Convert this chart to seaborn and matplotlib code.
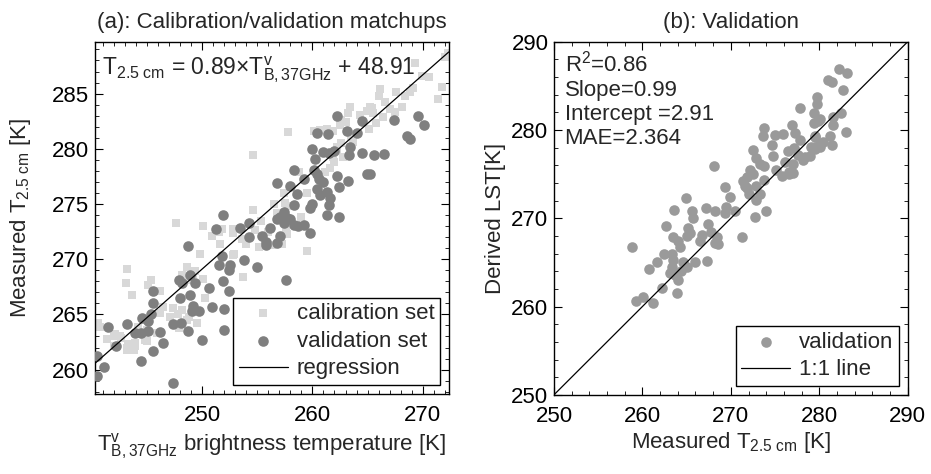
import matplotlib
matplotlib.use("Agg")
import matplotlib.pyplot as plt
from matplotlib.ticker import MultipleLocator
import seaborn as sns
import pandas as pd
import numpy as np

# ---------------- data ----------------
cal_x = [272.0, 272.3, 269.3, 270.6, 269.9, 271.7, 271.4,
         266.1, 266.0, 267.6, 268.4, 268.8, 269.1, 265.2, 265.5, 266.6, 267.0, 268.1, 267.5,
         266.4, 265.8, 265.1, 263.4, 263.2, 265.4, 264.9, 264.3, 262.6, 263.0, 262.5, 261.9,
         263.5, 263.7, 262.6, 262.2, 261.7, 262.0, 261.6, 261.1, 257.8, 260.1, 260.7, 261.3,
         254.6, 262.2, 261.9, 262.8, 257.4, 257.5, 256.8, 254.6, 259.5, 260.8, 258.8, 256.5,
         257.8, 255.3, 259.0, 256.0, 254.8, 253.6, 257.6,
         247.6, 250.1, 250.9, 251.5, 252.8, 251.8, 252.8, 251.6, 252.8, 254.0, 255.2, 256.3,
         257.2, 257.7, 259.5, 249.8, 243.2, 243.1, 243.7, 248.6, 249.2, 248.2, 248.9, 245.1,
         245.4, 246.2, 250.1, 250.3, 253.7, 248.2, 247.4, 246.5, 247.1, 246.2, 248.6, 245.0,
         245.0, 243.9, 243.2, 242.6, 242.0, 240.8, 242.0, 245.9, 249.4, 252.9, 240.6, 242.1,
         242.7, 243.3, 243.9, 243.2, 243.8, 244.8, 247.8, 248.8, 249.5, 247.9, 244.2, 241.4]
cal_y = [288.3, 288.7, 287.8, 286.5, 286.6, 285.6, 284.5,
         285.4, 284.8, 285.1, 284.8, 285.1, 285.5, 283.8, 283.2, 284.2, 283.6, 283.8, 283.3,
         282.9, 282.3, 281.8, 283.8, 283.2, 283.7, 283.4, 283.1, 282.6, 282.4, 282.2, 281.6,
         281.2, 280.6, 280.5, 280.0, 279.4, 278.8, 278.3, 277.9, 281.5, 281.6, 281.7, 281.8,
         279.4, 280.2, 279.3, 279.3, 276.0, 275.1, 274.2, 274.5, 276.0, 276.8, 277.9, 275.0,
         274.8, 273.5, 273.8, 272.5, 272.6, 271.8, 272.8,
         273.3, 273.0, 272.1, 272.5, 272.7, 272.7, 272.4, 271.4, 270.4, 271.4, 271.1, 271.3,
         271.4, 272.3, 270.7, 270.5, 269.1, 267.8, 266.8, 269.3, 268.7, 268.6, 268.1, 267.7,
         268.1, 267.1, 268.2, 266.5, 268.4, 265.4, 265.6, 265.7, 264.8, 265.1, 264.5, 263.6,
         262.6, 262.1, 262.0, 263.0, 263.0, 263.9, 262.1, 263.3, 268.9, 270.5, 264.2, 263.2,
         262.9, 262.3, 262.4, 261.8, 261.8, 262.7, 265.0, 264.8, 264.2, 263.8, 263.9, 262.8]

val_x = [262.2, 264.5, 267.4, 269.6, 270.1,
         260.4, 261.4, 263.1, 264.0, 268.6, 268.8,
         260.0, 263.4, 261.0, 261.5, 262.0, 260.2, 263.3, 264.5, 265.6, 266.5,
         258.3, 260.1, 260.4, 260.6, 261.0, 262.2, 263.2, 264.9, 265.2,
         256.8, 259.2, 258.0, 258.6, 260.4, 260.7, 261.3, 261.6, 261.5, 262.4,
         260.0, 259.8, 258.3, 257.4, 257.1, 257.7, 262.4, 261.3,
         256.8, 257.4, 258.0, 258.3, 258.7, 259.2,
         257.1, 256.8, 259.8,
         251.9, 254.3, 253.4, 251.3, 256.2, 255.4, 255.8, 255.8, 254.3,
         248.7, 251.8, 251.5, 252.5, 252.4, 253.8, 255.0,
         247.9, 248.2, 248.9, 249.4, 248.9, 250.6, 251.9, 252.4,
         245.6, 245.6, 248.0, 249.1, 249.7, 249.2, 250.9, 252.0,
         244.6, 245.1, 245.4, 243.2, 241.5, 243.9, 244.5, 245.1, 246.2,
         247.4, 248.1, 248.7, 252.0, 250.0, 242.2, 246.5, 245.6, 244.5,
         240.5, 241.1, 240.5, 247.4, 257.6]
val_y = [283.0, 282.5, 282.6, 283.0, 282.2,
         281.4, 281.3, 281.6, 281.4, 281.2, 280.9,
         280.0, 280.2, 279.7, 279.6, 279.8, 279.1, 279.4, 279.6, 279.4, 279.5,
         278.1, 278.1, 277.7, 277.3, 277.0, 277.5, 277.1, 277.7, 277.7,
         276.9, 277.3, 276.6, 275.9, 276.4, 275.8, 276.1, 275.5, 274.9, 276.5,
         275.0, 274.6, 274.9, 274.3, 273.8, 273.7, 273.8, 274.0,
         273.6, 273.3, 273.6, 273.1, 273.0, 273.1,
         272.1, 271.5, 272.4,
         274.0, 273.3, 272.8, 272.7, 272.8, 272.1, 271.6, 271.3, 272.0,
         271.2, 270.3, 269.5, 269.5, 269.0, 269.9, 269.3,
         268.1, 267.8, 268.6, 267.8, 266.8, 267.4, 268.0, 267.1,
         267.1, 266.0, 266.5, 265.3, 265.3, 265.8, 265.7, 265.5,
         264.7, 264.4, 265.0, 264.1, 263.9, 263.3, 263.3, 263.5, 263.4,
         264.1, 264.2, 263.5, 263.6, 262.7, 262.1, 262.4, 261.7, 260.8,
         261.2, 260.2, 259.4, 258.8, 268.1]

reg_slope = 0.88
reg_intercept = 49.1

meas_x = [282.2, 283.1, 281.0, 281.4, 282.7,
          279.7, 279.7, 279.4, 279.8, 279.4, 280.1,
          277.8,
          281.5, 282.5, 281.6, 283.0, 281.2, 281.4,
          279.5, 280.4, 279.5, 280.1, 279.1,
          273.8, 273.6, 275.0, 275.9, 274.7, 276.9, 277.3, 277.8, 277.1, 276.5, 277.6, 278.4, 278.9, 279.5, 280.1, 279.5,
          272.5, 272.9, 273.3, 272.2, 271.8, 271.4, 272.5, 273.8, 274.8, 275.1, 276.1, 277.0, 276.6, 275.8, 276.6, 278.2, 277.0,
          268.1, 269.3, 269.9, 271.6, 272.9, 273.7,
          271.8, 272.1, 273.3, 272.9, 274.0, 272.7, 271.3,
          264.9, 263.6, 265.6, 265.7, 267.2, 268.2, 269.5, 269.3, 270.5,
          262.7, 265.2, 265.4, 265.0, 267.4, 266.7, 266.5, 267.8, 268.4, 268.6, 268.2,
          258.8, 263.5, 264.0, 264.2,
          262.4, 263.3, 263.5, 263.3, 263.1, 263.7, 264.0,
          264.6, 265.0, 264.4, 265.9, 267.3, 261.7, 260.8,
          262.2, 263.9, 260.1, 259.3, 261.2]
derived_y = [286.9, 286.4, 285.7, 285.4, 284.5,
             283.7, 282.9, 281.9, 281.0, 280.8, 281.2,
             282.5,
             281.5, 281.9, 280.6, 279.8, 279.3, 278.3,
             279.3, 278.6, 278.1, 278.1, 278.1,
             280.2, 279.3, 279.4, 279.6, 278.3, 280.6, 279.7, 278.9, 278.0, 277.6, 277.2, 276.9, 277.1, 279.2, 278.4, 277.9,
             277.7, 276.8, 276.2, 275.5, 274.7, 274.2, 275.0, 275.9, 277.0, 275.5, 276.4, 276.2, 275.2, 274.8, 275.0, 276.6, 275.1,
             275.9, 273.5, 272.4, 273.6, 273.6, 274.3,
             273.4, 272.8, 272.8, 272.1, 270.8, 270.1, 267.9,
             272.3, 270.9, 270.8, 270.0, 271.2, 270.8, 271.3, 270.6, 270.8,
             269.1, 268.9, 268.3, 268.0, 269.4, 268.1, 267.4, 268.5, 267.9, 267.1, 267.2,
             266.8, 267.9, 267.4, 266.8,
             266.0, 265.9, 265.3, 264.5, 263.8, 263.6, 263.0,
             265.1, 264.5, 264.0, 265.1, 265.2, 265.0, 264.2,
             262.1, 261.5, 261.1, 260.6, 260.4]

one_to_one = [250, 290]

# ---------------- style ----------------
sns.set_style("white")
plt.rcParams['font.family'] = ['Liberation Sans', 'DejaVu Sans']
plt.rcParams['mathtext.fontset'] = 'custom'
plt.rcParams['mathtext.rm'] = 'Liberation Sans'
plt.rcParams['mathtext.it'] = 'Liberation Sans'
plt.rcParams['mathtext.bf'] = 'Liberation Sans'
plt.rcParams['mathtext.default'] = 'regular'

FS = 16
fig = plt.figure(figsize=(9.31, 4.74), dpi=100)
ax1 = fig.add_axes([0.102, 0.169, 0.380, 0.743])
ax2 = fig.add_axes([0.595, 0.167, 0.380, 0.745])

cal_df = pd.DataFrame({'x': cal_x, 'y': cal_y})
val_df = pd.DataFrame({'x': val_x, 'y': val_y})
xlim1 = (240.3, 272.35)
reg_df = pd.DataFrame({'x': list(xlim1)})
reg_df['y'] = reg_slope * reg_df['x'] + reg_intercept

sns.scatterplot(data=cal_df, x='x', y='y', ax=ax1, marker='s', s=28, color='#d8d8d8',
                linewidth=0, label='calibration set', legend=False, zorder=2)
sns.scatterplot(data=val_df, x='x', y='y', ax=ax1, marker='o', s=58, color='#7f7f7f',
                linewidth=0, label='validation set', legend=False, zorder=3)
sns.lineplot(data=reg_df, x='x', y='y', ax=ax1, color='black', linewidth=0.9,
             label='regression', legend=False, zorder=4)

ax1.set_xlim(*xlim1)
ax1.set_ylim(257.8, 289.7)
ax1.xaxis.set_major_locator(MultipleLocator(10))
ax1.xaxis.set_minor_locator(MultipleLocator(1))
ax1.yaxis.set_major_locator(MultipleLocator(5))
ax1.yaxis.set_minor_locator(MultipleLocator(1))
ax1.set_title('(a): Calibration/validation matchups', fontsize=16, pad=10)
ax1.set_xlabel(r'$T^{v}_{B,37GHz}$ brightness temperature [K]', fontsize=FS, labelpad=4)
ax1.set_ylabel(r'Measured T$_{2.5\ cm}$ [K]', fontsize=FS, labelpad=14)
ax1.text(0.02, 0.965, r'T$_{2.5\ cm}$ = 0.89$\times$T$^{v}_{B,37GHz}$ + 48.91',
         transform=ax1.transAxes, fontsize=16.5, va='top', ha='left')
leg1 = ax1.legend(loc='lower right', fontsize=FS, frameon=True, fancybox=False,
                  edgecolor='black', framealpha=1, borderaxespad=0.4,
                  handlelength=2.2, handletextpad=0.4, labelspacing=0.3, borderpad=0.25)
leg1.get_frame().set_linewidth(1.0)

meas_df = pd.DataFrame({'x': meas_x, 'y': derived_y})
one_df = pd.DataFrame({'x': one_to_one, 'y': one_to_one})
sns.scatterplot(data=meas_df, x='x', y='y', ax=ax2, marker='o', s=58, color='#9a9a9a',
                linewidth=0, label='validation', legend=False, zorder=3)
sns.lineplot(data=one_df, x='x', y='y', ax=ax2, color='black', linewidth=0.9,
             label='1:1 line', legend=False, zorder=4)
ax2.set_xlim(250, 290)
ax2.set_ylim(250, 290)
ax2.xaxis.set_major_locator(MultipleLocator(10))
ax2.xaxis.set_minor_locator(MultipleLocator(2))
ax2.yaxis.set_major_locator(MultipleLocator(10))
ax2.yaxis.set_minor_locator(MultipleLocator(2))
ax2.set_title('(b): Validation', fontsize=16, pad=10)
ax2.set_xlabel(r'Measured T$_{2.5\ cm}$ [K]', fontsize=FS, labelpad=2)
ax2.set_ylabel('Derived LST[K]', fontsize=FS, labelpad=4)
ax2.text(0.03, 0.975, 'R$^{2}$=0.86\nSlope=0.99\nIntercept =2.91\nMAE=2.364',
         transform=ax2.transAxes, fontsize=FS, va='top', ha='left', linespacing=1.2)
leg2 = ax2.legend(loc='lower right', fontsize=FS, frameon=True, fancybox=False,
                  edgecolor='black', framealpha=1, borderaxespad=0.4,
                  handlelength=2.2, handletextpad=0.4, labelspacing=0.3, borderpad=0.25)
leg2.get_frame().set_linewidth(1.0)

for ax in (ax1, ax2):
    for sp in ax.spines.values():
        sp.set_color('black')
        sp.set_linewidth(1.0)
        sp.set_visible(True)
    ax.tick_params(which='both', direction='in', top=True, right=True,
                   bottom=True, left=True, colors='black', labelsize=FS)
    ax.tick_params(which='major', length=6, width=0.8)
    ax.tick_params(which='minor', length=3, width=0.6)
    ax.tick_params(axis='x', which='major', pad=8)
    ax.tick_params(axis='y', which='major', pad=4)

fig.savefig('out.png', dpi=100)
